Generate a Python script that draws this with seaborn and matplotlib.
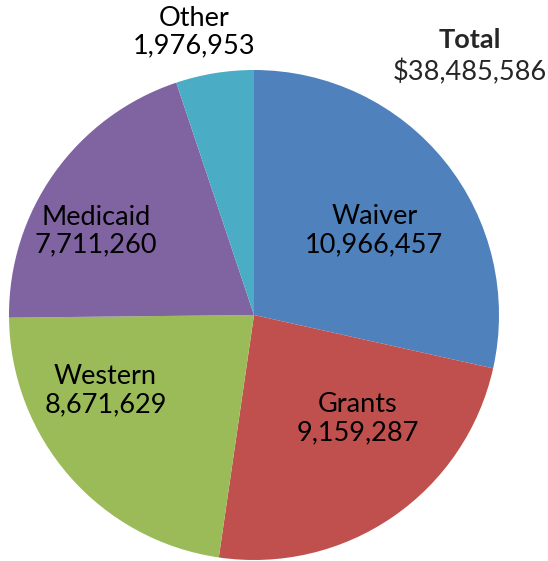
import numpy as np
import matplotlib
matplotlib.use('Agg')
import matplotlib.pyplot as plt
import seaborn as sns

categories = ['Waiver', 'Grants', 'Western', 'Medicaid', 'Other']
amounts = [10966457, 9159287, 8671629, 7711260, 1976953]
total_label = '$38,485,586'

sns.set_theme(style='white')
plt.rcParams['font.family'] = ['Lato', 'DejaVu Sans']

colors = ['#4F81BD', '#C0504D', '#9BBB59', '#8064A2', '#4BACC6']

# label placement (radius, angle in degrees) relative to pie centre
label_pos = [(0.60, 35), (0.60, -45), (0.68, -153), (0.73, 152), (1.18, 102)]

fig = plt.figure(figsize=(5.48, 5.61), dpi=100)
ax = fig.add_axes([9 / 548, 1 / 561, 490 / 548, 490 / 561])
wedges, _ = ax.pie(amounts, colors=colors, startangle=90, counterclock=False,
                   radius=1, wedgeprops=dict(linewidth=0))
ax.set_xlim(-1, 1)
ax.set_ylim(-1, 1)
ax.set_aspect('equal')
ax.axis('off')

for name, val, (r, a) in zip(categories, amounts, label_pos):
    t = np.deg2rad(a)
    ax.text(r * np.cos(t), r * np.sin(t), f'{name}\n{val:,}',
            ha='center', va='center', fontsize=19.5, color='black',
            linespacing=1.15, clip_on=False)

fig.text(470 / 548, 1 - 40 / 561, 'Total', ha='center', va='center',
         fontsize=19.5, fontweight='bold')
fig.text(470 / 548, 1 - 72 / 561, total_label, ha='center', va='center',
         fontsize=19.5)

fig.savefig('out.png', dpi=100)
